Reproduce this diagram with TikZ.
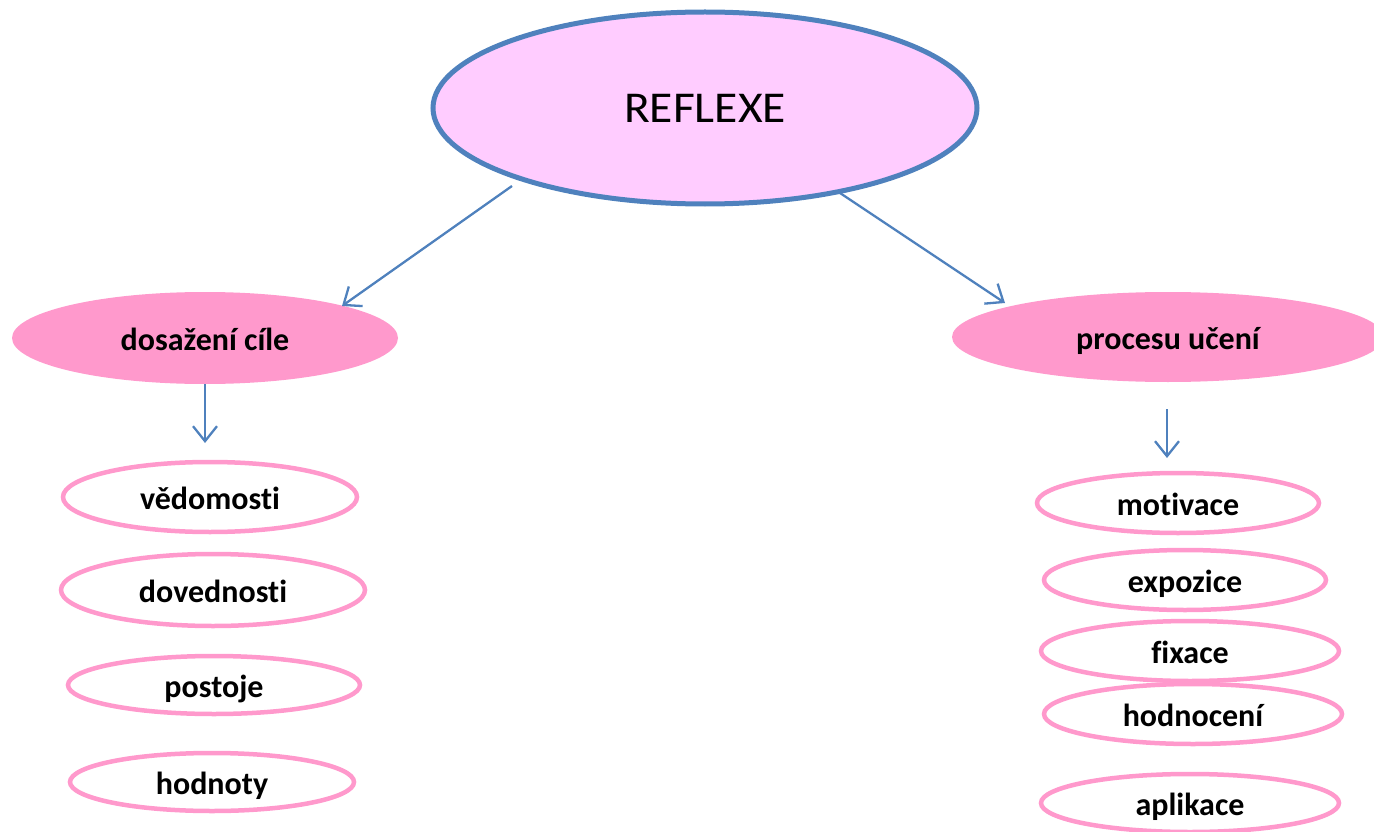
\documentclass[tikz,border=0pt]{standalone}
\usepackage{fontspec}
\setmainfont[Ligatures=NoCommon]{Carlito}
\usetikzlibrary{shapes.geometric,arrows.meta}
\definecolor{lineblue}{HTML}{4F81BD}
\definecolor{bigfill}{HTML}{FFCCFF}
\definecolor{pinkfill}{HTML}{FF99CC}
\tikzset{
  mainell/.style={ellipse, draw=lineblue, line width=5pt, fill=bigfill, inner sep=0pt,
    font=\fontsize{44}{50}\selectfont, text height=30pt, text depth=0pt},
  catell/.style={ellipse, fill=pinkfill, inner sep=0pt, font=\bfseries\fontsize{32}{36}\selectfont,
    text height=24pt, text depth=0pt},
  itemell/.style={ellipse, draw=pinkfill, line width=4.5pt, fill=white, inner sep=0pt,
    font=\bfseries\fontsize{32}{36}\selectfont, text height=24pt, text depth=0pt},
  arr/.style={draw=lineblue, line width=2.3pt, -{Straight Barb[length=15pt,width=24pt,line width=2.3pt]}}
}
\begin{document}
\begin{tikzpicture}[x=1pt,y=-1pt]
\useasboundingbox (0,0) rectangle (1374,832);
\node[mainell, minimum width=544pt, minimum height=192pt] (reflexe) at (705,108) {\scalebox{1.08}[1]{REFLEXE}};
\node[catell, minimum width=386pt, minimum height=92pt] (dos) at (205,338) {dosažení cíle};
\node[catell, minimum width=432pt, minimum height=90pt] (proc) at (1168,337) {procesu učení};

\node[itemell, minimum width=294pt, minimum height=70pt] (ved) at (210,497) {vědomosti};
\node[itemell, minimum width=304pt, minimum height=72pt] (dov) at (213,590) {dovednosti};
\node[itemell, minimum width=292pt, minimum height=58pt] (pos) at (214,685) {postoje};
\node[itemell, minimum width=284pt, minimum height=58pt] (hod) at (212,782) {hodnoty};

\node[itemell, minimum width=282pt, minimum height=60pt] (mot) at (1178,503) {motivace};
\node[itemell, minimum width=282pt, minimum height=60pt] (exp) at (1185,580) {expozice};
\node[itemell, minimum width=298pt, minimum height=60pt] (fix) at (1190,651) {fixace};
\node[itemell, minimum width=298pt, minimum height=60pt] (hdn) at (1193,714) {hodnocení};
\node[itemell, minimum width=298pt, minimum height=58pt] (apl) at (1190,803) {aplikace};

\coordinate (r1) at (512,186);
\coordinate (d1) at (342,306);
\coordinate (r2) at (840,193);
\coordinate (p1) at (1005,303);
\coordinate (d2) at (205,384);
\coordinate (d3) at (205,443);
\coordinate (p2) at (1167,409);
\coordinate (p3) at (1167,458);
\draw[arr] (r1) -- (d1);
\draw[arr] (r2) -- (p1);
\draw[arr] (d2) -- (d3);
\draw[arr] (p2) -- (p3);
\end{tikzpicture}
\end{document}
